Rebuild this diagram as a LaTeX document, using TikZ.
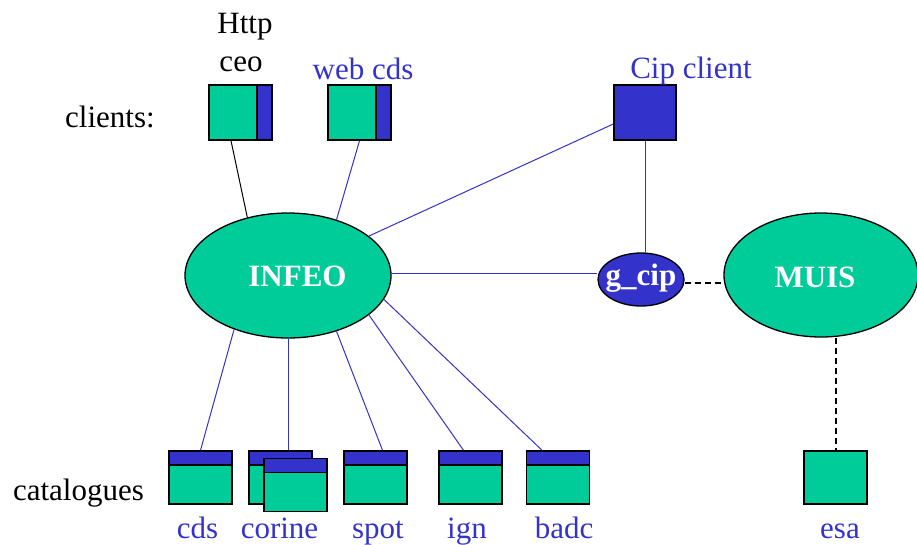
\documentclass[tikz,border=0pt]{standalone}
\usepackage{fontspec}
\setmainfont{Liberation Serif}
\usetikzlibrary{shapes.geometric}
\definecolor{mygreen}{HTML}{00CC99}
\definecolor{myblue}{HTML}{3333CC}
\begin{document}
\begin{tikzpicture}[x=1pt,y=-1pt,
  txt/.style={font=\fontsize{31}{31}\selectfont, anchor=base, inner sep=0pt},
  btxt/.style={font=\fontsize{31}{31}\selectfont\bfseries, text=white, anchor=base, inner sep=0pt},
  conn/.style={myblue, line width=1pt},
  dconn/.style={black, line width=2pt, dash pattern=on 6pt off 4pt},
  oval/.style={ellipse, draw=black, line width=1.3pt, fill=mygreen, inner sep=0pt},
  catbox/.style={rectangle, draw=black, line width=1.5pt, fill=mygreen, minimum width=63pt, minimum height=53pt, inner sep=0pt,
    path picture={\fill[myblue] (path picture bounding box.north west) rectangle ([yshift=-14pt]path picture bounding box.north east);
      \draw[black, line width=1.5pt] ([yshift=-14pt]path picture bounding box.north west) -- ([yshift=-14pt]path picture bounding box.north east);}},
  clibox/.style={rectangle, draw=black, line width=1.5pt, fill=mygreen, minimum width=63pt, minimum height=55pt, inner sep=0pt,
    path picture={\fill[myblue] ([xshift=-15pt]path picture bounding box.north east) rectangle (path picture bounding box.south east);
      \draw[black, line width=1.5pt] ([xshift=-15pt]path picture bounding box.north east) -- ([xshift=-15pt]path picture bounding box.south east);}}
]
\useasboundingbox (0,0) rectangle (917,544);
\begin{scope}
\clip (0,0) rectangle (917,544);

% connectors (drawn first)
% nodes
\node[clibox] (http) at (240.5,112.5) {};
\node[clibox] (webcds) at (359.5,112.5) {};
\node[rectangle, draw=black, line width=1.5pt, fill=myblue, minimum width=62pt, minimum height=55pt, inner sep=0pt] (cip) at (645,112.5) {};

\node[oval, minimum width=206pt, minimum height=125pt] (infeo) at (288,275.5) {};
\node[oval, fill=myblue, minimum width=86pt, minimum height=53pt] (gcip) at (641,279.5) {};
\node[oval, minimum width=194pt, minimum height=124pt] (muis) at (821,275) {};

\node[catbox] (cds) at (200.5,477.5) {};
\node[catbox] (corineb) at (280.5,477.5) {};
\node[catbox] (corinef) at (295.5,485) {};
\node[catbox] (spot) at (375.5,477.5) {};
\node[catbox] (ign) at (470.5,477.5) {};
\node[catbox] (badc) at (558,477.5) {};
\node[rectangle, draw=black, line width=1.5pt, fill=mygreen, minimum width=63pt, minimum height=53pt, inner sep=0pt] (esa) at (835.5,477.5) {};

% connectors
\draw[black, line width=1pt] ([xshift=-9.5pt]http.south) -- (infeo.125);
\draw[conn] (webcds.south) -- (infeo.49);
\draw[conn] ([yshift=-11.5pt]cip.west) -- (infeo.26.9);
\draw[conn] (cip.south) -- (cip.south |- gcip.north);
\draw[conn] ([yshift=2.5pt]infeo.east) -- ([yshift=2.5pt]infeo.east -| gcip.west);
\draw[dconn] ([yshift=-3.5pt]gcip.east) -- ([yshift=-3.5pt]gcip.east -| muis.west);
\draw[dconn] (esa.north |- muis.south) -- (esa.north);

\draw[conn] (infeo.-135.3) -- (cds.north);
\draw[conn] (infeo.south) -- (infeo.south |- corineb.north);
\draw[conn] (infeo.-49.6) -- ([xshift=7pt]spot.north);
\draw[conn] (infeo.-26.6) -- ([xshift=-7pt]ign.north);
\draw[conn] (infeo.-14.5) -- ([xshift=-16pt]badc.north);

% redraw the front corine box over the line
\node[catbox] at (corinef) {};

% labels
\node[txt] (lhttp) at (245,33) {Http};
\node[txt] (lceo) at (241,71) {ceo};
\node[txt, text=myblue] (lweb) at (363,79) {web cds};
\node[txt, text=myblue] (lcip) at (691,78) {Cip client};
\node[txt] (lclients) at (110,127) {clients:};
\node[txt] (lcat) at (78.5,500) {catalogues};

\node[btxt] (linfeo) at (297.5,286) {INFEO};
\node[btxt] (lmuis) at (815,287) {MUIS};
\node[btxt] (lgcip) at (641,285) {g\_cip};

\node[txt, text=myblue] (lcds) at (197.5,538) {cds};
\node[txt, text=myblue] (lcorine) at (279.5,538) {corine};
\node[txt, text=myblue] (lspot) at (378,538) {spot};
\node[txt, text=myblue] (lign) at (467,538) {ign};
\node[txt, text=myblue] (lbadc) at (564,538) {badc};
\node[txt, text=myblue] (lesa) at (840,538) {esa};
\end{scope}
\end{tikzpicture}
\end{document}
